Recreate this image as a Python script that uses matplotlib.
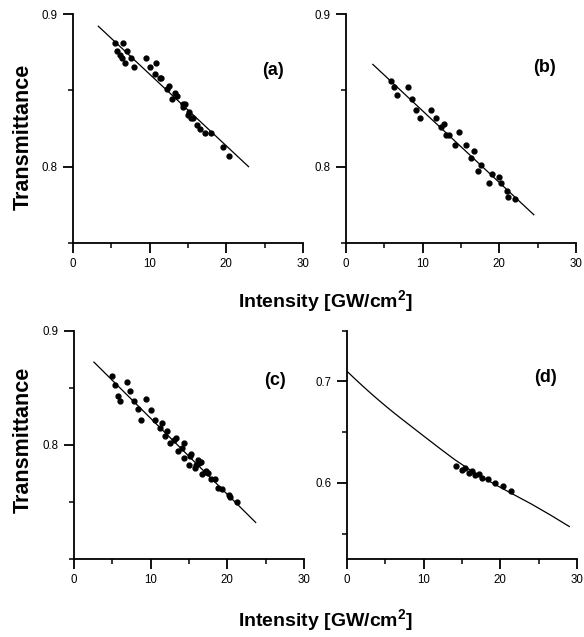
import matplotlib
matplotlib.use("Agg")
import matplotlib.pyplot as plt
from matplotlib.ticker import MultipleLocator, FixedLocator

plt.rcParams['font.family'] = ['Liberation Sans', 'DejaVu Sans']
plt.rcParams['mathtext.fontset'] = 'custom'
plt.rcParams['mathtext.rm'] = 'Liberation Sans'
plt.rcParams['mathtext.bf'] = 'Liberation Sans:bold'

# ---- data ----
xa = [5.5, 6.5, 5.8, 7.0, 6.1, 6.4, 6.8, 7.5, 7.9, 9.5, 10.1, 10.8, 10.7, 11.3, 11.5,
      12.5, 12.2, 13.3, 13.5, 12.9, 14.3, 14.6, 14.4, 15.1, 15.0, 15.4, 15.6, 16.2,
      16.5, 17.2, 18.0, 19.5, 20.3]
ya = [0.881, 0.881, 0.876, 0.876, 0.873, 0.871, 0.868, 0.871, 0.865, 0.871, 0.865,
      0.868, 0.861, 0.858, 0.858, 0.853, 0.851, 0.848, 0.846, 0.844, 0.841, 0.841,
      0.839, 0.836, 0.834, 0.832, 0.832, 0.827, 0.825, 0.822, 0.822, 0.813, 0.807]
fit_a_x = [3.3, 22.9]
fit_a_y = [0.892, 0.800]

xb = [5.9, 6.3, 6.65, 8.1, 8.6, 9.1, 9.6, 11.1, 11.7, 12.35, 12.75, 13.0, 13.4, 14.2,
      14.75, 15.6, 16.35, 16.75, 17.65, 17.2, 18.6, 19.1, 20.0, 20.2, 21.0, 21.1, 22.0]
yb = [0.856, 0.852, 0.847, 0.852, 0.844, 0.837, 0.832, 0.837, 0.832, 0.826, 0.828,
      0.821, 0.821, 0.814, 0.823, 0.814, 0.806, 0.810, 0.801, 0.797, 0.789, 0.795,
      0.793, 0.789, 0.784, 0.780, 0.779]
fit_b_x = [3.5, 24.5]
fit_b_y = [0.867, 0.7685]

xc = [4.98, 5.41, 5.71, 6.06, 6.93, 7.36, 7.84, 8.31, 8.74, 9.35, 10.0, 10.6, 11.21,
      11.47, 11.86, 12.08, 12.51, 13.03, 13.25, 13.6, 14.03, 14.29, 14.37, 15.0, 15.15,
      15.32, 15.76, 15.93, 16.19, 16.36, 16.54, 16.67, 17.06, 17.27, 17.49, 17.92,
      18.35, 18.79, 19.26, 20.22, 20.35, 21.3]
yc = [0.860, 0.8525, 0.8432, 0.838, 0.8551, 0.8475, 0.838, 0.831, 0.8214, 0.8403,
      0.8307, 0.8217, 0.8145, 0.8191, 0.8078, 0.8122, 0.8014, 0.8043, 0.8058, 0.7948,
      0.7971, 0.8014, 0.7887, 0.7826, 0.7901, 0.7919, 0.780, 0.7826, 0.7864, 0.7841,
      0.7846, 0.7742, 0.7765, 0.7774, 0.7757, 0.7699, 0.7699, 0.7623, 0.7617, 0.7557,
      0.7542, 0.7501]
fit_c_x = [2.6, 23.7]
fit_c_y = [0.8725, 0.732]

xd = [14.26, 15.0, 15.35, 15.9, 16.35, 16.74, 17.17, 17.6, 18.4, 19.35, 20.4, 21.43]
yd = [0.6165, 0.6126, 0.6143, 0.610, 0.6113, 0.6077, 0.6084, 0.6052, 0.6038, 0.600,
      0.5967, 0.5918]
curve_d_x = [0.0, 1.0, 2.0, 3.0, 4.0, 5.0, 6.0, 7.0, 8.4, 10.0, 12.1, 14.0, 16.5,
             19.3, 21.5, 24.0, 26.5, 29.0]
curve_d_y = [0.710, 0.7028, 0.6958, 0.6890, 0.6824, 0.6760, 0.6698, 0.6638, 0.6556,
             0.6462, 0.6340, 0.6232, 0.6105, 0.5985, 0.5895, 0.5794, 0.5685, 0.5570]

panels = [
    dict(label='(a)', x=xa, y=ya, fx=fit_a_x, fy=fit_a_y, ylim=(0.75, 0.9),
         major=[0.8, 0.9], minor=[0.75, 0.85], pos=[73/584, 1-243/637, 230/584, 229/637],
         lab=(0.87, 0.755)),
    dict(label='(b)', x=xb, y=yb, fx=fit_b_x, fy=fit_b_y, ylim=(0.75, 0.9),
         major=[0.8, 0.9], minor=[0.75, 0.85], pos=[346/584, 1-243/637, 230/584, 229/637],
         lab=(0.865, 0.766)),
    dict(label='(c)', x=xc, y=yc, fx=fit_c_x, fy=fit_c_y, ylim=(0.7, 0.9),
         major=[0.8, 0.9], minor=[0.7, 0.75, 0.85], pos=[74/584, 1-559/637, 230/584, 228.3/637],
         lab=(0.876, 0.784)),
    dict(label='(d)', x=xd, y=yd, fx=curve_d_x, fy=curve_d_y, ylim=(0.525, 0.75),
         major=[0.6, 0.7], minor=[0.55, 0.65, 0.75], pos=[347/584, 1-559/637, 230/584, 228.3/637],
         lab=(0.861, 0.797)),
]

fig = plt.figure(figsize=(5.84, 6.37), dpi=100)

for p in panels:
    ax = fig.add_axes(p['pos'])
    ax.plot(p['fx'], p['fy'], color='black', lw=0.9)
    ax.plot(p['x'], p['y'], 'o', color='black', ms=3.5, mec='black', clip_on=False)
    ax.set_xlim(0, 30)
    ax.set_ylim(*p['ylim'])
    ax.xaxis.set_major_locator(MultipleLocator(10))
    ax.xaxis.set_minor_locator(MultipleLocator(5))
    ax.yaxis.set_major_locator(FixedLocator(p['major']))
    ax.yaxis.set_minor_locator(FixedLocator(p['minor']))
    ax.yaxis.set_major_formatter(plt.FuncFormatter(lambda v, _: f'{v:.1f}'))
    for s in ['top', 'right']:
        ax.spines[s].set_visible(False)
    for s in ['left', 'bottom']:
        ax.spines[s].set_linewidth(1.3)
    ax.tick_params(which='major', direction='out', length=7, width=1.3,
                   labelsize=8.3, pad=4)
    ax.tick_params(which='minor', direction='out', length=3.5, width=1.1)
    ax.text(p['lab'][0], p['lab'][1], p['label'], transform=ax.transAxes,
            ha='center', va='center', fontsize=13, fontweight='bold')

# axis titles
for yc_ in [137, 440]:
    fig.text(23.5/584, 1 - yc_/637, 'Transmittance', rotation=90, ha='center',
             va='center', fontsize=15.5, fontweight='bold')
for yc_ in [302, 621]:
    fig.text(325/584, 1 - yc_/637, r'Intensity [GW/cm$^{\mathbf{2}}$]', ha='center',
             va='center', fontsize=14, fontweight='bold')

fig.savefig('out.png', dpi=100)
